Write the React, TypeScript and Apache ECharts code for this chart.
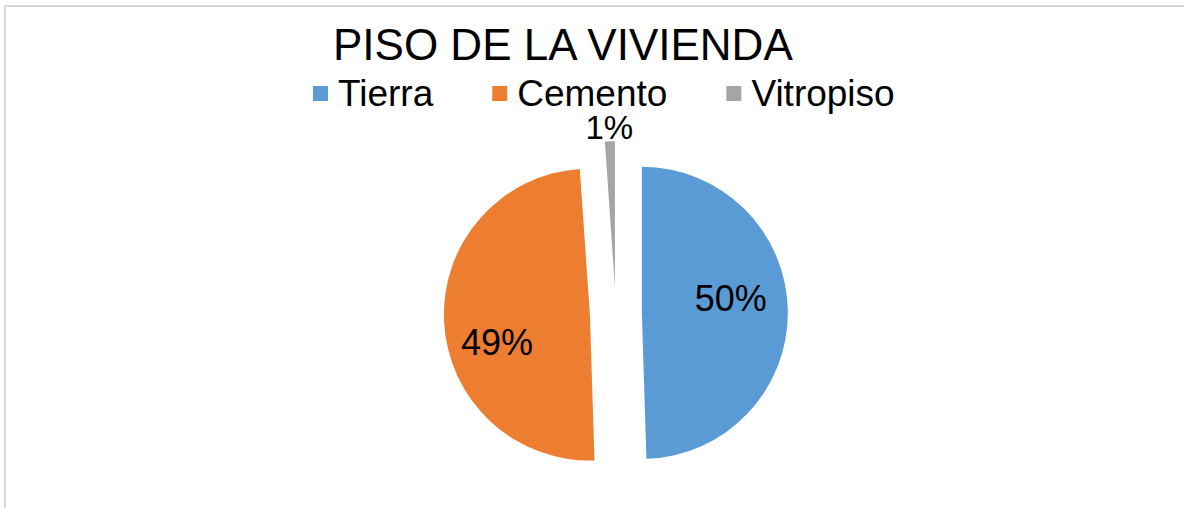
import React, { useEffect, useRef } from "react";
import * as echarts from "echarts";

const titleText = "PISO DE LA VIVIENDA";
const categories = ["Tierra", "Cemento", "Vitropiso"];
const values = [49.5, 49.4, 1.1];
const colors = ["#5B9BD5", "#ED7D31", "#A5A5A5"];
const labelShift = [
  [13, -13],
  [-17, 24],
  [-3, -84],
];
const labelSize = [36, 36, 33];

export default function App() {
  const ref = useRef<HTMLDivElement>(null);
  useEffect(() => {
    if (!ref.current) return;
    const chart = echarts.init(ref.current, undefined, { renderer: "svg" });
    const font = "'Liberation Sans', Arial, sans-serif";
    chart.setOption({
      animation: false,
      backgroundColor: "#ffffff",
      graphic: [
        {
          type: "rect",
          shape: { x: 5, y: 6, width: 1250, height: 600 },
          style: { fill: "none", stroke: "#d9d9d9", lineWidth: 2 },
          silent: true,
        },
      ],
      title: {
        text: titleText,
        left: 333,
        top: 22,
        padding: 0,
        textStyle: { fontFamily: font, fontSize: 44, fontWeight: "normal", color: "#000" },
      },
      legend: {
        data: categories,
        left: 313,
        top: 75,
        padding: 0,
        itemGap: 59,
        itemWidth: 15,
        itemHeight: 15,
        icon: "rect",
        selectedMode: false,
        textStyle: { fontFamily: font, fontSize: 37, lineHeight: 32, color: "#000", padding: [0, 0, 0, 5] },
      },
      series: [
        {
          type: "pie",
          center: [615.85, 313.25],
          radius: 146,
          startAngle: 90,
          clockwise: true,
          selectedMode: "multiple",
          selectedOffset: 26,
          percentPrecision: 0,
          avoidLabelOverlap: false,
          label: {
            show: true,
            position: "inside",
            formatter: "{d}%",
            fontFamily: font,
            fontSize: 36,
            color: "#000",
          },
          labelLine: { show: false },
          labelLayout: (p: any) => ({ dx: labelShift[p.dataIndex][0], dy: labelShift[p.dataIndex][1] }),
          emphasis: { disabled: true },
          data: categories.map((name, i) => ({
            name,
            value: values[i],
            selected: true,
            label: { fontSize: labelSize[i], lineHeight: labelSize[i] - 6 },
            itemStyle: { color: colors[i], borderWidth: 0 },
            select: { itemStyle: { color: colors[i], borderWidth: 0 } },
          })),
        },
      ],
    });
    return () => chart.dispose();
  }, []);
  return (
    <div
      ref={ref}
      style={{ position: "fixed", left: 0, top: 0, width: 1184, height: 508 }}
    />
  );
}
